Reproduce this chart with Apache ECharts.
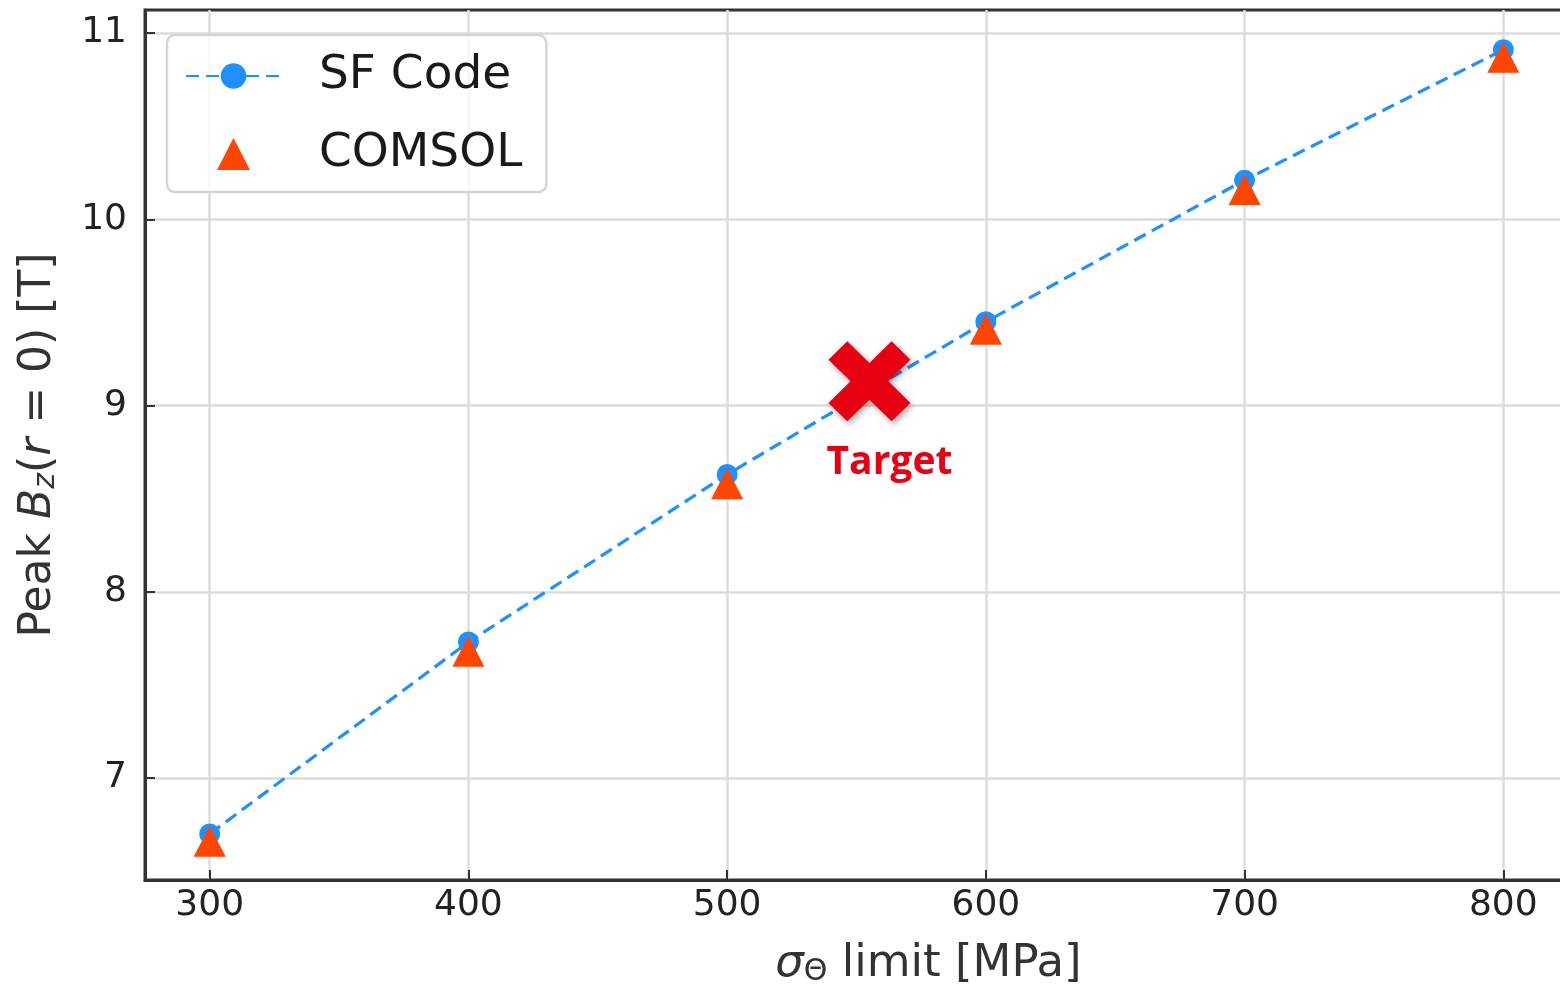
<!DOCTYPE html>
<html>
<head>
<meta charset="utf-8">
<script src="https://cdn.jsdelivr.net/npm/echarts@6/dist/echarts.min.js"></script>
<style>
html,body{margin:0;padding:0;background:#fff;}
#chart{width:1560px;height:997px;}
</style>
</head>
<body>
<div id="chart"></div>
<script>
// ---- data ----
const sigmaLimit = [300, 400, 500, 600, 700, 800];          // MPa
const sfCode     = [6.70, 7.73, 8.63, 9.45, 10.21, 10.91]; // T
const comsol     = [6.66, 7.68, 8.58, 9.41, 10.16, 10.87]; // T
const targetPoint = [555, 9.13];
const targetLabel = 'Target';
const seriesNames = ['SF Code', 'COMSOL'];
const xRange = [275, 825];
const yRange = [6.4524, 11.1235];

const FONT = 'DejaVu Sans';
const chart = echarts.init(document.getElementById('chart'), null, {renderer: 'canvas'});

const crossPath = 'path://M0,23 L23,0 L50,27 L77,0 L100,23 L73,50 L100,77 L77,100 L50,73 L23,100 L0,77 L27,50 Z';
const triPath = 'path://M16,0 L32,31 L0,31 Z';

const option = {
  animation: false,
  backgroundColor: '#ffffff',
  grid: {
    left: 145, top: 10, width: 1423, height: 870,
    outerBoundsMode: 'none',
    show: true, borderColor: '#333333', borderWidth: 3, backgroundColor: 'transparent'
  },
  legend: {
    data: [
      { name: seriesNames[0] },
      { name: seriesNames[1], icon: triPath }
    ],
    orient: 'vertical',
    left: 167, top: 35,
    padding: [16, 24, 13, 18],
    itemWidth: 95, itemHeight: 32, itemGap: 28,
    symbolKeepAspect: true,
    backgroundColor: 'rgba(255,255,255,0.8)',
    borderColor: '#d5d5d5', borderWidth: 2.5, borderRadius: 8,
    textStyle: { fontFamily: FONT, fontSize: 47, color: '#1a1a1a', lineHeight: 50, padding: [0, 0, 0, 33] }
  },
  xAxis: {
    type: 'value', min: xRange[0], max: xRange[1],
    splitNumber: 5,
    name: '{i|σ}{sub|Θ} limit [MPa]',
    nameLocation: 'middle', nameGap: 62,
    nameTextStyle: {
      fontFamily: FONT, fontSize: 45, color: '#333',
      padding: [0, 0, 0, 144],
      rich: {
        i: { fontFamily: FONT, fontSize: 45, fontStyle: 'italic', color: '#333' },
        sub: { fontFamily: FONT, fontSize: 30, color: '#333', verticalAlign: 'bottom', lineHeight: 26 }
      }
    },
    axisLine: { show: true, lineStyle: { color: '#333', width: 3 } },
    axisTick: { show: true, inside: true, length: 10, lineStyle: { color: '#333', width: 2 } },
    axisLabel: { fontFamily: FONT, fontSize: 36, color: '#222', margin: 8, showMinLabel: false, showMaxLabel: false },
    splitLine: { show: true, showMinLine: false, showMaxLine: false, lineStyle: { color: '#dcdcdc', width: 2.5 } }
  },
  yAxis: {
    type: 'value', min: yRange[0], max: yRange[1],
    splitNumber: 5,
    name: 'Peak {i|B}{sub|z}({i|r} = 0) [T]',
    nameLocation: 'middle', nameGap: 84, nameRotate: 90,
    nameTextStyle: {
      fontFamily: FONT, fontSize: 44, color: '#333',
      rich: {
        i: { fontFamily: FONT, fontSize: 44, fontStyle: 'italic', color: '#333' },
        sub: { fontFamily: FONT, fontSize: 30, fontStyle: 'italic', color: '#333', verticalAlign: 'bottom', lineHeight: 26 }
      }
    },
    axisLine: { show: true, lineStyle: { color: '#333', width: 3 } },
    axisTick: { show: true, inside: true, length: 10, lineStyle: { color: '#333', width: 2 } },
    axisLabel: { fontFamily: FONT, fontSize: 36, color: '#222', margin: 18, showMinLabel: false, showMaxLabel: false },
    splitLine: { show: true, showMinLine: false, showMaxLine: false, lineStyle: { color: '#dcdcdc', width: 2.5 } }
  },
  series: [
    {
      name: seriesNames[0], type: 'line',
      data: sigmaLimit.map((x, i) => [x, sfCode[i]]),
      symbol: 'circle', symbolSize: 21,
      lineStyle: { color: '#1E90FF', width: 3.2, type: [13, 7] },
      itemStyle: { color: '#1E90FF' },
      z: 3
    },
    {
      name: seriesNames[1], type: 'scatter',
      data: sigmaLimit.map((x, i) => [x, comsol[i]]),
      symbol: 'triangle', symbolSize: [32, 31],
      itemStyle: { color: '#FF4500', opacity: 1 },
      z: 4
    },
    {
      name: targetLabel, type: 'scatter',
      data: [targetPoint],
      symbol: crossPath, symbolSize: [82, 80],
      itemStyle: {
        color: '#E60012', opacity: 1,
        shadowBlur: 6, shadowColor: 'rgba(0,0,0,0.35)', shadowOffsetX: 2, shadowOffsetY: 3
      },
      label: {
        show: true, position: 'bottom', distance: 22, offset: [20, 0],
        formatter: targetLabel,
        fontFamily: 'Open Sans', fontWeight: 'bold', fontSize: 39, color: '#E60012'
      },
      z: 5
    }
  ]
};
chart.setOption(option);
</script>
</body>
</html>
